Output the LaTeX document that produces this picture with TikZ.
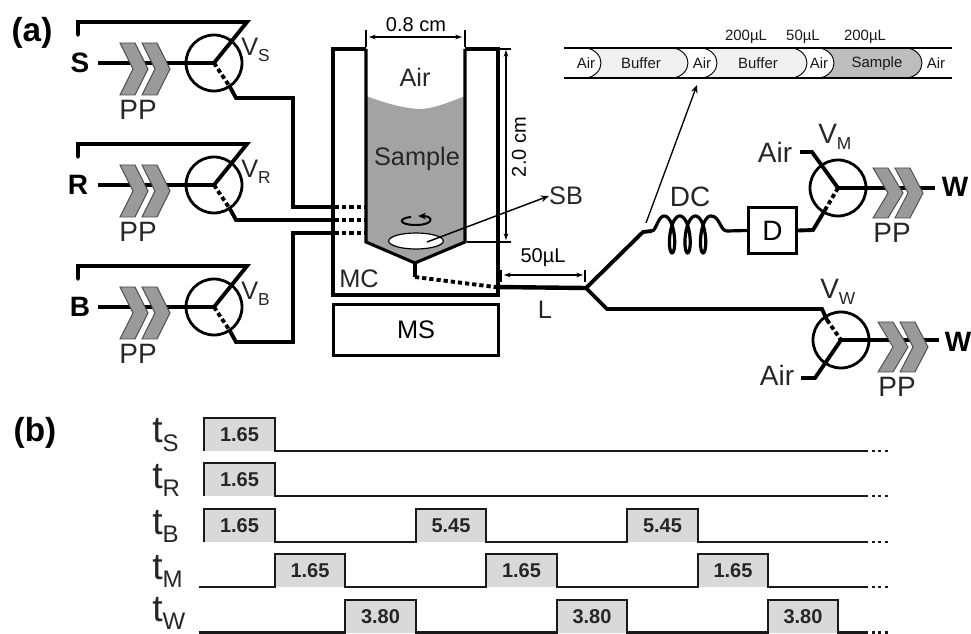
\documentclass[tikz,border=0pt]{standalone}
\usepackage{fontspec}
\setmainfont{Liberation Sans}
\usetikzlibrary{arrows.meta,shapes.geometric}
\definecolor{samplegray}{HTML}{A3A3A3}
\definecolor{chevgray}{HTML}{9A9A9A}
\definecolor{pulsegray}{HTML}{D9D9D9}
\definecolor{buffergray}{HTML}{F0F0F0}
\definecolor{plugsample}{HTML}{BDBDBD}
\newcommand{\vlab}[1]{V\raisebox{-4.5pt}{\fontsize{13}{13}\selectfont #1}}
\newcommand{\tlab}[1]{t\raisebox{-6pt}{\fontsize{18}{18}\selectfont #1}}
% \plugshape{colour}{left x}{right x of the rounded end}
\newcommand{\plugshape}[3]{%
  \pgfmathsetmacro{\px}{#3-15}
  \pgfmathsetmacro{\pa}{#3-6}
  \fill[#1] (#2,48) -- (\px,48) .. controls (\pa,49) and (#3,56) .. (#3,63) .. controls (#3,70) and (\pa,77) .. (\px,78) -- (#2,78) -- cycle;
  \draw[line width=0.7pt] (\px,48) .. controls (\pa,49) and (#3,56) .. (#3,63) .. controls (#3,70) and (\pa,77) .. (\px,78);
}
\tikzset{
  tube/.style={line width=2.9pt,line join=miter,black},
  tubedash/.style={line width=2.9pt,dash pattern=on 3.2pt off 2.2pt},
  wall/.style={line width=2.3pt},
  valve/.style={circle,draw,line width=2.1pt,minimum size=42pt,inner sep=0pt},
  lab/.style={font=\fontsize{19}{19}\selectfont,inner sep=0pt,text=black!85},
  labb/.style={font=\fontsize{21}{21}\selectfont,inner sep=0pt,text=black!85},
  blab/.style={font=\fontsize{21}{21}\bfseries\selectfont,inner sep=0pt},
  panel/.style={font=\fontsize{25}{25}\bfseries\selectfont,inner sep=0pt},
  small/.style={font=\fontsize{15}{15}\selectfont,inner sep=0pt},
  tiny/.style={font=\fontsize{11.2}{11.2}\selectfont,inner sep=0pt,text=black!90},
  tname/.style={font=\fontsize{28}{28}\selectfont,inner sep=0pt,anchor=base west,text=black!85},
  dur/.style={font=\fontsize{15}{15}\bfseries\selectfont,inner sep=0pt,text=black!85},
  thin line/.style={line width=0.8pt},
  dim/.style={line width=0.8pt,{Stealth[length=5pt,width=3.5pt]}-{Stealth[length=5pt,width=3.5pt]}},
  trace/.style={line width=1.6pt,line join=miter,black!90},
  pulse/.style={fill=pulsegray},
  dots/.style={line width=1.6pt,dash pattern=on 2.2pt off 2.6pt,black!90},
  pp/.pic={
    \draw[fill=chevgray,draw=black!70,line width=0.7pt] (-13,-26)--(2,-26)--(15,0)--(2,26)--(-13,26)--(0,0)--cycle;
    \draw[fill=chevgray,draw=black!70,line width=0.7pt] (9,-26)--(24,-26)--(37,0)--(24,26)--(9,26)--(22,0)--cycle;
  },
  ppr/.pic={
    \draw[fill=chevgray,draw=black!70,line width=0.7pt] (-15,-25)--(0,-25)--(15,0)--(0,25)--(-15,25)--(0,0)--cycle;
    \draw[fill=chevgray,draw=black!70,line width=0.7pt] (7,-25)--(22,-25)--(35,0)--(22,25)--(7,25)--(20,0)--cycle;
  }
}
\begin{document}
\begin{tikzpicture}[x=0.75pt,y=-0.75pt]
\useasboundingbox (0,0) rectangle (971,634);

% ---- reaction chamber ----
\fill[samplegray] (366,96) .. controls (385,103) and (405,109) .. (422,109)
  .. controls (435,108) and (450,102) .. (465,96) -- (465,242) -- (415,263) -- (366,242) -- cycle;
\draw[wall] (366,49) -- (333,49) -- (333,295) -- (498,295) -- (498,49) -- (465,49);
\draw[wall] (366,49) -- (366,242) -- (415,263) -- (465,242) -- (465,49);
\node[draw,wall,fill=white,minimum width=123.5pt,minimum height=38pt,inner sep=0pt,
      font=\fontsize{19}{19}\selectfont] (MS) at (416,330) {MS};
\node[draw,ellipse,fill=white,line width=0.9pt,minimum width=41pt,minimum height=12pt,inner sep=0pt] (bar) at (416,241) {};
\coordinate (out) at (415,263);
\coordinate (outb) at (415,277);
\coordinate (Lstart) at (495,287);
\coordinate (junction) at (586,288);
\draw[tube] (out) -- (outb);
\draw[tubedash] (outb) -- (Lstart);
\draw[tube,line width=3.3pt] (Lstart) -- (junction);
\draw[line width=1.5pt,-{Stealth[length=6pt,width=5pt]}] (411,217) .. controls (398,218) and (398,225) .. (416,225) .. controls (434,225) and (434,216) .. (418,216);

\node[lab] (tAir) at (415,77) {Air};
\node[lab] (tSample) at (417,159) {Sample};
\node[lab] (tMC) at (359,279) {MC};
\node[lab] (tL) at (545,310) {L};
\node[lab] (tSB) at (566,196) {SB};
\coordinate (barin) at (427,242);
\draw[line width=1.1pt,-{Stealth[length=6pt,width=5pt]}] (barin) -- (tSB.west);

% dimensions
\coordinate (wl) at (369,37); \coordinate (wr) at (462,37);
\draw[thin line] (366,30) -- (366,47) (465,30) -- (465,47);
\draw[dim] (wl) -- (wr);
\node[small] (wlab) at (416,25) {0.8 cm};
\coordinate (ht) at (506,50); \coordinate (hb) at (506,240);
\draw[thin line] (498,49) -- (511,49) (467,242) -- (511,242);
\draw[dim] (ht) -- (hb);
\node[small,rotate=90] (hlab) at (519,147) {2.0 cm};
\coordinate (ll) at (504,275); \coordinate (lr) at (583,275);
\draw[thin line] (501,270) -- (501,282) (585,270) -- (585,282);
\draw[dim] (ll) -- (lr);
\node[small] (llab) at (543,258) {50µL};

% ---- inlet lines ----
\foreach \nm/\yc/\sub/\letter/\lx in {S/63/S/S/80, R/185/R/R/78, B/307/B/B/80}{
  \pgfmathsetmacro{\ytop}{\yc-41}
  \pgfmathsetmacro{\ybar}{\yc-28}
  \node[valve] (V\nm) at (214,\yc) {};
  \node[blab] (L\nm) at (\lx,\yc) {\letter};
  \coordinate (T\nm a) at (78,\ybar);
  \coordinate (T\nm b) at (78,\ytop);
  \coordinate (T\nm c) at (247,\ytop);
  \draw[tube,line cap=round] (T\nm a) -- (T\nm b) -- (T\nm c) -- (V\nm.center);
  \draw[tube] (98,\yc) -- (V\nm.center);
  \pic at (133,\yc+6) {pp};
  \node[labb] (PP\nm) at (138,\yc+47) {PP};
  \node[lab,anchor=west] (VL\nm) at (241,\yc-13) {\vlab{\sub}};
  \coordinate (D\nm) at (230,\yc+24);
  \draw[tubedash] (V\nm.center) -- (D\nm);
}
\draw[tube] (DS) -- (236,98) -- (293,98) -- (293,207) -- (335,207);
\draw[tube] (DR) -- (236,220) -- (335,220);
\draw[tube] (DB) -- (236,342) -- (293,342) -- (293,233) -- (335,233);
\draw[tubedash] (335,207) -- (365,207);
\draw[tubedash] (335,220) -- (365,220);
\draw[tubedash] (335,233) -- (365,233);

% ---- outlet branch: detector ----
\node[draw,wall,fill=white,minimum width=36pt,minimum height=34.5pt,inner sep=0pt,
      font=\fontsize{21}{21}\selectfont] (D) at (772.5,230.5) {D};
\coordinate (ca) at (643,232);
\coordinate (cb) at (652,231);
\draw[tube] (junction) -- (ca) -- (cb);
\draw[line width=2.4pt,line join=round] (cb) .. controls (656,231) and (658,216) .. (664.3,216)
  plot[domain=0:18.85,samples=140,smooth,variable=\t] ({664.3+2.47*\t+6*sin(\t r)},{234.5-18.5*cos(\t r)})
  .. controls (720,216) and (720,231) .. (727,231) -- (D.west);
\node[labb] (tDC) at (690,197) {DC};
\node[valve] (VM) at (838,188) {};
\node[labb] (airM) at (775,152) {Air};
\node[labb] (PPM) at (892,233) {PP};
\node[blab] (WM) at (955,187) {W};
\node[labb,anchor=west] (VLM) at (818,137) {\vlab{M}};
\coordinate (aM) at (800,152);
\coordinate (dM) at (825,210);
\draw[tube] (aM) -- (812,152) -- (VM.center);
\draw[tube] (VM.center) -- (935,188);
\draw[tubedash] (VM.center) -- (dM);
\draw[tube] (dM) -- (813,230) -- (D.east);
\pic at (888,193) {ppr};

% ---- outlet branch: waste ----
\node[valve] (VW) at (841,340) {};
\node[labb] (airW) at (777,375) {Air};
\node[labb] (PPW) at (897,387) {PP};
\node[blab] (WW) at (958,342) {W};
\node[labb,anchor=west] (VLW) at (820,292) {\vlab{W}};
\coordinate (aW) at (801,378);
\coordinate (dW) at (827,320);
\draw[tube] (junction) -- (607,309) -- (822,309) -- (dW);
\draw[tubedash] (dW) -- (VW.center);
\draw[tube] (aW) -- (815,378) -- (VW.center);
\draw[tube] (VW.center) -- (939,340);
\pic at (893,347) {ppr};

% ---- plug train ----
\plugshape{plugsample}{780}{922}
\plugshape{white}{700}{834}
\plugshape{buffergray}{700}{807}
\plugshape{white}{600}{717}
\plugshape{buffergray}{590}{688}
\plugshape{white}{564}{601}
\draw[line width=1.3pt] (564,48) -- (952,48) (564,78) -- (952,78);
\foreach \n/\x/\s in {a/586/Air, b/641/Buffer, c/702/Air, d/758/Buffer, e/819/Air, f/877/Sample, g/936/Air}{
  \node[tiny] (plug\n) at (\x,63.5) {\s};
}
\node[tiny] (v1) at (746,37) {200µL};
\node[tiny] (v2) at (803,37) {50µL};
\node[tiny] (v3) at (865,37) {200µL};
\coordinate (zoomfrom) at (646,223);
\coordinate (zoomto) at (697,85);
\draw[line width=1pt,-{Stealth[length=6pt,width=5pt]}] (zoomfrom) -- (zoomto);

% ---- panel labels ----
\node[panel] (pa) at (32,33) {(a)};
\node[panel] (pb) at (35,433) {(b)};

% ---- timing ----
\foreach \a/\b/\yy/\d in {204/275/451/1.65, 204/275/496/1.65, 204/275/542/1.65, 416/486/542/5.45, 627/698/542/5.45,
  275/345/587/1.65, 486/557/587/1.65, 698/768/587/1.65, 345/416/632.5/3.80, 557/627/632.5/3.80, 768/838/632.5/3.80}{
  \fill[pulse] (\a,\yy) rectangle (\b,\yy-33);
  \node[dur] at ({(\a+\b)/2},\yy-16) {\d};
}
\draw[trace] (204,451) |- (275,418) |- (868,451);
\draw[trace] (204,496) |- (275,463) |- (868,496);
\draw[trace] (204,542) |- (275,509) |- (416,542) |- (486,509) |- (627,542) |- (698,509) |- (868,542);
\draw[trace] (199,587) -| (275,554) -| (345,587) -| (486,554) -| (557,587) -| (698,554) -| (768,587) -- (868,587);
\draw[trace] (199,632.5) -| (345,600) -| (416,632.5) -| (557,600) -| (627,632.5) -| (768,600) -| (838,632.5) -- (868,632.5);
\foreach \yy in {451,496,542,587,632.5}{\draw[dots] (872,\yy) -- (889,\yy);}
\node[tname] (ts) at (152,443) {\tlab{S}};
\node[tname] (tr) at (152,488.5) {\tlab{R}};
\node[tname] (tb) at (152,534) {\tlab{B}};
\node[tname] (tm) at (152,579.5) {\tlab{M}};
\node[tname] (tw) at (152,621) {\tlab{W}};
\end{tikzpicture}
\end{document}
